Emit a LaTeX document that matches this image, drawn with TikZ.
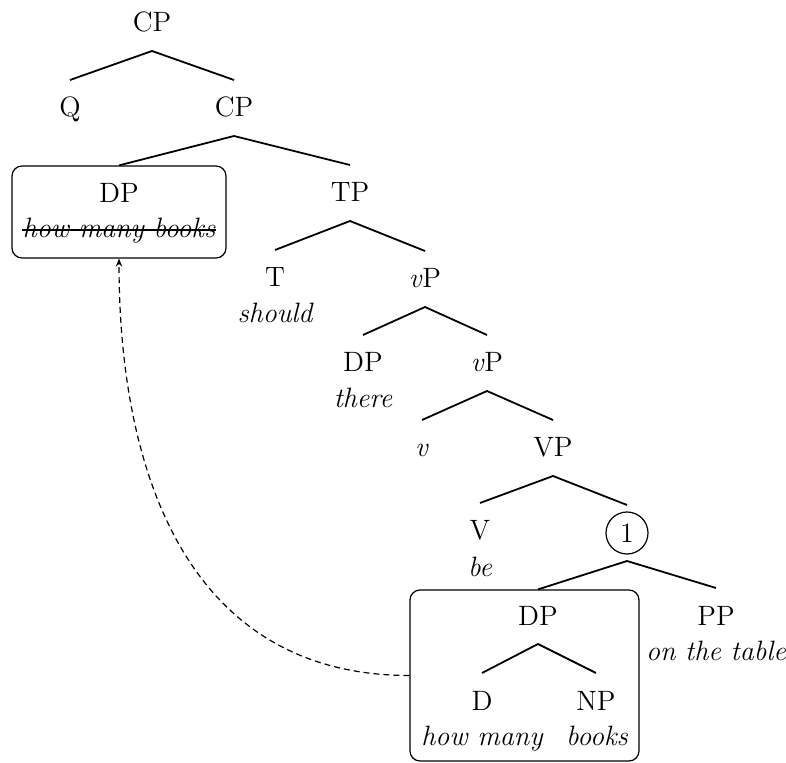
\documentclass[tikz,border=0pt]{standalone}
\usepackage{fontspec}
\usetikzlibrary{arrows.meta}
\begin{document}
\begin{tikzpicture}[x=0.5pt,y=-0.5pt,
  every node/.style={font=\fontsize{14}{17}\selectfont},
  cat/.style={anchor=base,text height=9pt,text depth=0pt,inner ysep=9.5pt,inner xsep=2pt,outer sep=0pt},
  word/.style={anchor=base,inner sep=0pt,font=\fontsize{14}{17}\selectfont\itshape},
  branch/.style={line width=0.9pt},
  movebox/.style={draw,rounded corners=5pt,line width=0.6pt,inner sep=0pt},
  numbered/.style={draw,circle,line width=0.6pt,minimum size=21pt,inner sep=0pt,outer sep=3.5pt},
  movement/.style={dashed,dash pattern=on 3pt off 2pt,line width=0.6pt,-{Stealth[length=4pt,width=3.2pt]}}]
\useasboundingbox (0,0) rectangle (786,763);

% top of the clause
\node[cat] (cp0) at (152,32) {CP};
\node[cat] (q) at (70,117) {Q};
\node[cat] (cp1) at (234,117) {CP};

% moved wh-phrase (upper copy)
\node[movebox,minimum width=107pt,minimum height=46pt] (box1) at (119,212) {};
\node[cat] (dp1) at (119,203) {DP};
\node[word] (hmb) at (119,238) {how many books};
\draw[line width=0.6pt] ([yshift=4pt]hmb.base west) -- ([yshift=4pt]hmb.base east);

\node[cat] (tp) at (350,202) {TP};
\node[cat] (t) at (275,287) {T};
\node[word] (should) at (275,323) {should};
\node[cat] (vp1) at (425,288) {\textit{v}P};
\node[cat] (dpthere) at (363,372) {DP};
\node[word] (there) at (363,408) {there};
\node[cat] (vp2) at (487,372) {\textit{v}P};
\node[cat] (lv) at (422,457) {\textit{v}};
\node[cat] (vp) at (553,457) {VP};
\node[cat] (bigv) at (480,540) {V};
\node[word] (be) at (480,576) {be};
\node[numbered] (one) at (627,533) {1};

% lower copy
\node[movebox,minimum width=114.5pt,minimum height=85.5pt] (box2) at (524.5,675.5) {};
\node[cat] (dp2) at (538,625) {DP};
\node[cat] (d) at (482,710) {D};
\node[word] (howmany) at (482,745) {how many};
\node[cat] (np) at (596,710) {NP};
\node[word] (books) at (597,745) {books};
\node[cat] (pp) at (716,625) {PP};
\node[word] (table) at (716,660) {on the table};

% branches
\draw[branch] (q.north) -- (cp0.south) -- (cp1.north);
\draw[branch] (box1.north) -- (cp1.south) -- (tp.north);
\draw[branch] (t.north) -- (tp.south) -- (vp1.north);
\draw[branch] (dpthere.north) -- (vp1.south) -- (vp2.north);
\draw[branch] (lv.north) -- (vp2.south) -- (vp.north);
\draw[branch] (bigv.north) -- (vp.south) -- (one.north);
\draw[branch] (box2.north -| dp2) -- (one.south) -- (pp.north);
\draw[branch] (d.north) -- (dp2.south) -- (np.north);

% movement
\draw[movement] (box2.west) to[out=180,in=-90,looseness=1.1] (box1.south);
\end{tikzpicture}
\end{document}
